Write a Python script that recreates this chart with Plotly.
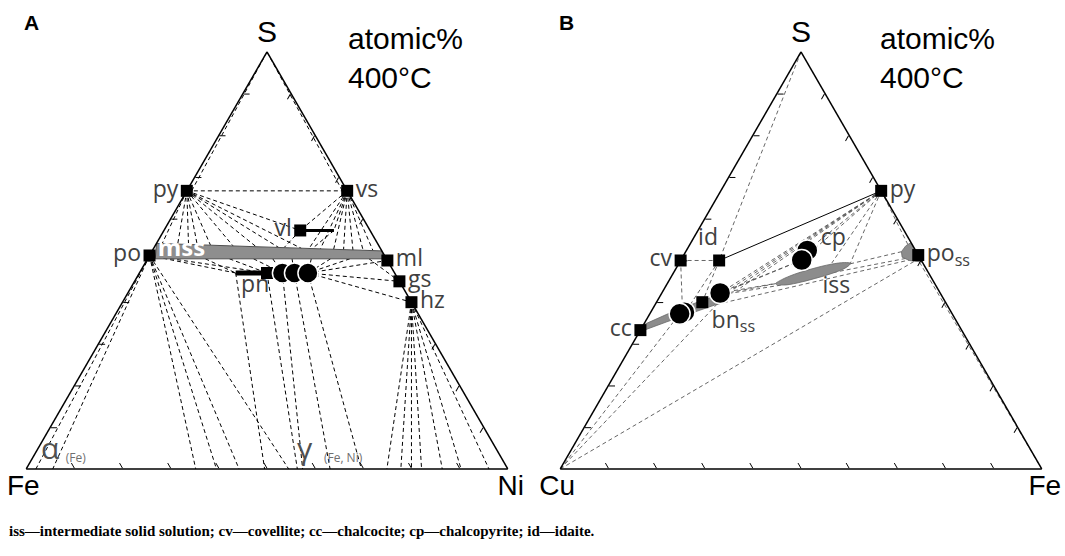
import plotly.graph_objects as go

# ================= Panel A : Fe–Ni–S (atomic %, 400 °C) =================
A_phase_names = ["py", "vs", "vl", "po", "ml", "gs", "hz"]
A_phase_S = [66.7, 66.7, 57.2, 51.2, 50.0, 45.0, 40.0]
A_phase_Ni = [0.0, 33.3, 28.3, 0.0, 50.0, 55.0, 60.0]

A_pn_square_S = [47.0]
A_pn_square_Ni = [26.5]

A_pn_circle_S = [47.0, 47.0, 47.0]
A_pn_circle_Ni = [29.7, 32.2, 35.0]

A_vl_ss_S = [57.2, 57.2]
A_vl_ss_Ni = [28.3, 35.3]
A_pn_ss_S = [47.0, 47.0]
A_pn_ss_Ni = [20.0, 26.5]

A_mss_S = [54.1, 52.3, 50.4, 50.4, 54.1]
A_mss_Ni = [0.0, 47.7, 49.0, 1.6, 0.0]

# tie lines: (S1, Ni1) -> (S2, Ni2)
A_tie_S1 = [100, 100, 66.7, 66.7, 66.7, 66.7, 66.7, 66.7, 66.7, 66.7, 66.7, 66.7, 66.7,
            66.7, 66.7, 66.7, 66.7, 66.7, 66.7, 66.7, 66.7, 66.7, 57.2, 57.2,
            51.2, 51.2, 50.4, 50.4, 50.4, 50.4, 50.4, 50.4, 50.4, 50.4, 47.0, 47.0, 47.0, 50.4,
            51.2, 51.2, 51.2, 51.2, 51.2, 51.2,
            47.0, 47.0, 47.0, 47.0, 47.0,
            40.0, 40.0, 40.0, 40.0, 40.0, 40.0, 40.0]
A_tie_Ni1 = [0, 0, 0, 0, 0, 0, 0, 0, 0, 0, 0, 0, 0,
             33.3, 33.3, 33.3, 33.3, 33.3, 33.3, 33.3, 33.3, 33.3, 28.3, 35.3,
             0, 0, 12.0, 17.0, 22.0, 26.0, 30.0, 34.0, 38.0, 42.0, 35.0, 35.0, 35.0, 46.0,
             0, 0, 0, 0, 0, 0,
             20.0, 26.5, 29.7, 32.2, 35.0,
             60.0, 60.0, 60.0, 60.0, 60.0, 60.0, 60.0]
A_tie_S2 = [66.7, 66.7, 66.7, 54.1, 53.9, 53.8, 53.8, 53.7, 53.5, 53.3, 53.1, 52.9, 57.2,
            57.2, 57.2, 52.9, 52.8, 52.7, 52.6, 52.5, 52.5, 52.4, 53.1, 52.9,
            47.0, 47.0, 47.0, 47.0, 47.0, 47.0, 47.0, 47.0, 47.0, 47.0, 50.0, 45.0, 40.0, 45.0,
            0, 0, 0, 0, 0, 0,
            0, 0, 0, 0, 0,
            0, 0, 0, 0, 0, 0, 0]
A_tie_Ni2 = [1.0, 32.3, 33.3, 1.2, 4.5, 6.8, 8.6, 11.4, 16.2, 21.1, 25.9, 30.7, 28.3,
             28.3, 35.3, 32.3, 34.7, 37.5, 39.6, 41.6, 43.7, 45.8, 27.0, 33.0,
             20.0, 26.5, 20.0, 26.5, 29.7, 29.7, 32.2, 35.0, 35.0, 35.0, 50.0, 55.0, 60.0, 55.0,
             2.0, 5.5, 35.2, 39.5, 44.2, 54.5,
             49.5, 56.3, 57.4, 63.1, 69.6,
             74.9, 77.8, 80.0, 82.1, 86.4, 90.3, 96.1]

A_mss_text = ["mss"]
A_mss_text_S = [52.5]
A_mss_text_Ni = [6.0]
A_label_text = ["pn"]
A_label_S = [43.9]
A_label_Ni = [25.6]
A_greek_text = ["α", "γ"]
A_greek_S = [4.3, 4.1]
A_greek_Ni = [2.8, 55.8]
A_sub_text = ["(Fe)", "(Fe, Ni)"]
A_sub_S = [2.4, 2.4]
A_sub_Ni = [9.1, 64.6]

# ================= Panel B : Cu–Fe–S (atomic %, 400 °C) =================
B_phase_names = ["py", "po<sub>ss</sub>", "cv", "cc"]
B_phase_S = [66.7, 51.3, 50.0, 33.3]
B_phase_Fe = [33.3, 48.7, 0.0, 0.0]

B_other_square_S = [50.0, 40.0]     # id, bn
B_other_square_Fe = [8.0, 9.5]

B_circle_S = [37.6, 37.2, 42.2, 52.4, 50.1]
B_circle_Fe = [7.0, 6.2, 12.1, 25.1, 25.1]

B_iss_S = [49.3, 48.4, 47.0, 45.7, 44.6, 44.1, 44.4, 45.4, 46.7, 48.0, 49.1, 49.5, 49.3]
B_iss_Fe = [35.6, 35.3, 33.2, 30.1, 26.9, 24.3, 22.5, 23.3, 25.3, 28.3, 31.7, 34.3, 35.6]

B_bn_S = [33.3, 34.8, 37.1, 40.0, 41.5, 41.2, 39.5, 37.5, 35.3, 33.3, 33.3]
B_bn_Fe = [0.0, 0.3, 3.6, 8.5, 11.5, 13.8, 12.8, 8.8, 4.5, 0.8, 0.0]

B_po_S = [54.3, 53.5, 52.1, 50.8, 50.0, 49.6, 54.3]
B_po_Fe = [45.7, 45.0, 44.8, 45.6, 47.5, 50.4, 45.7]

B_tie_S1 = [100, 50, 50, 50, 50, 66.7, 66.7, 66.7, 66.7, 66.7, 66.7, 66.7, 66.7, 66.7,
            50.1, 50.1, 42.2, 41.8, 49.2, 42.0, 39.5, 0, 0, 0, 49.6]
B_tie_Fe1 = [0, 0, 0, 8, 8, 33.3, 33.3, 33.3, 33.3, 33.3, 33.3, 33.3, 33.3, 33.3,
             25.1, 25.1, 12.1, 12.6, 35.6, 12.8, 12.8, 0, 0, 0, 49.8]
B_tie_S2 = [50, 50, 37.6, 37.9, 40.0, 42.2, 42.7, 43.1, 43.4, 52.4, 50.1, 49.4, 49.2, 53.8,
            42.2, 42.7, 44.5, 44.2, 52.1, 51.0, 50.6, 50.5, 37.2, 39.5, 0]
B_tie_Fe2 = [8, 8, 6.6, 7.2, 9.5, 12.1, 13.3, 14.5, 15.7, 25.1, 25.1, 31.7, 35.6, 45.3,
             12.1, 13.3, 22.5, 24.3, 44.8, 48.5, 49.0, 49.3, 6.2, 12.8, 100]

B_solid_S = [50.0, 66.7]
B_solid_Fe = [8.0, 33.3]

B_label_text = ["iss", "bn<sub>ss</sub>", "id", "cp"]
B_label_S = [43.7, 35.3, 55.2, 55.2]
B_label_Fe = [35.5, 18.3, 3.1, 29.1]

CAPTION = "iss—intermediate solid solution; cv—covellite; cc—chalcocite; cp—chalcopyrite; id—idaite."

LABEL_FONT = dict(family="Open Sans", size=23, color="#404040")


def segments(s1, x1, s2, x2):
    a, b, c = [], [], []
    for p, q, r, t in zip(s1, x1, s2, x2):
        a += [p, r, None]
        c += [q, t, None]
        b += [100 - p - q, 100 - r - t, None]
    return a, b, c


def rest(s, x):
    return [100 - p - q for p, q in zip(s, x)]


def tr(s, x, sub, **kw):
    return go.Scatterternary(a=s, b=rest(s, x), c=x, subplot=sub, cliponaxis=False,
                             hoverinfo="skip", **kw)


fig = go.Figure()

# ---------- Panel A ----------
a, b, c = segments(A_tie_S1, A_tie_Ni1, A_tie_S2, A_tie_Ni2)
fig.add_trace(go.Scatterternary(a=a, b=b, c=c, mode="lines", subplot="ternary",
                                line=dict(color="black", width=1, dash="4px,3px"),
                                cliponaxis=False, hoverinfo="skip"))
fig.add_trace(tr(A_mss_S, A_mss_Ni, "ternary", mode="lines", fill="toself",
                 fillcolor="#8e8e8e", line=dict(color="#505050", width=1)))
fig.add_trace(tr(A_vl_ss_S, A_vl_ss_Ni, "ternary", mode="lines",
                 line=dict(color="black", width=3)))
fig.add_trace(tr(A_pn_ss_S, A_pn_ss_Ni, "ternary", mode="lines",
                 line=dict(color="black", width=5)))
fig.add_trace(tr(A_pn_square_S, A_pn_square_Ni, "ternary", mode="markers",
                 marker=dict(symbol="square", size=12, color="black")))
fig.add_trace(tr(A_pn_circle_S, A_pn_circle_Ni, "ternary", mode="markers",
                 marker=dict(symbol="circle", size=20, color="black",
                             line=dict(color="white", width=1.5))))
fig.add_trace(tr(A_phase_S, A_phase_Ni, "ternary", mode="markers+text", text=A_phase_names,
                 textposition=["middle left", "middle right", "middle left", "middle left",
                               "middle right", "middle right", "middle right"],
                 textfont=LABEL_FONT,
                 marker=dict(symbol="square", size=12, color="black")))
fig.add_trace(tr(A_label_S, A_label_Ni, "ternary", mode="text", text=A_label_text,
                 textposition="middle center", textfont=LABEL_FONT))
fig.add_trace(tr(A_mss_text_S, A_mss_text_Ni, "ternary", mode="text",
                 text=["<b>%s</b>" % t for t in A_mss_text], textposition="middle center",
                 textfont=dict(family="Open Sans", size=24, color="white")))
fig.add_trace(tr(A_greek_S, A_greek_Ni, "ternary", mode="text", text=A_greek_text,
                 textposition="middle center",
                 textfont=dict(family="Open Sans", size=30, color="#505050")))
fig.add_trace(tr(A_sub_S, A_sub_Ni, "ternary", mode="text", text=A_sub_text,
                 textposition="middle center",
                 textfont=dict(family="Open Sans", size=12, color="#707070")))

# ---------- Panel B ----------
a, b, c = segments(B_tie_S1, B_tie_Fe1, B_tie_S2, B_tie_Fe2)
fig.add_trace(go.Scatterternary(a=a, b=b, c=c, mode="lines", subplot="ternary2",
                                line=dict(color="#555555", width=0.9, dash="4px,3px"),
                                cliponaxis=False, hoverinfo="skip"))
for s_arr, f_arr, shape in [(B_bn_S, B_bn_Fe, "linear"), (B_po_S, B_po_Fe, "linear"),
                            (B_iss_S, B_iss_Fe, "spline")]:
    fig.add_trace(tr(s_arr, f_arr, "ternary2", mode="lines", fill="toself",
                     fillcolor="#8c8c8c", line=dict(color="#6a6a6a", width=0.8, shape=shape)))
fig.add_trace(tr(B_solid_S, B_solid_Fe, "ternary2", mode="lines",
                 line=dict(color="black", width=1)))
fig.add_trace(tr(B_other_square_S, B_other_square_Fe, "ternary2", mode="markers",
                 marker=dict(symbol="square", size=12, color="black")))
fig.add_trace(tr(B_phase_S, B_phase_Fe, "ternary2", mode="markers+text", text=B_phase_names,
                 textposition=["middle right", "middle right", "middle left", "middle left"],
                 textfont=LABEL_FONT,
                 marker=dict(symbol="square", size=12, color="black")))
fig.add_trace(tr(B_circle_S, B_circle_Fe, "ternary2", mode="markers",
                 marker=dict(symbol="circle", size=21, color="black",
                             line=dict(color="white", width=1.5))))
fig.add_trace(tr(B_label_S, B_label_Fe, "ternary2", mode="text", text=B_label_text,
                 textposition="middle center", textfont=LABEL_FONT))

# ---------- layout ----------
axis_common = dict(showgrid=False, showticklabels=False, ticks="inside", ticklen=6,
                   tickwidth=1, tickcolor="black", tickmode="array",
                   tickvals=[10, 20, 30, 40, 50, 60, 70, 80, 90],
                   linecolor="black", linewidth=1.5, min=0)
title_font_top = dict(family="Liberation Sans", size=30, color="black")
title_font = dict(family="Liberation Sans", size=28, color="black")


def tern(xdom, ta, tb, tc):
    return dict(domain=dict(x=xdom, y=[0.1565, 0.9065]), sum=100, bgcolor="white",
                aaxis=dict(title=dict(text=ta, font=title_font_top), **axis_common),
                baxis=dict(title=dict(text=tb, font=title_font), **axis_common),
                caxis=dict(title=dict(text=tc, font=title_font), **axis_common))


W, H = 1065, 556
fig.update_layout(
    width=W, height=H, margin=dict(l=0, r=0, t=0, b=0),
    paper_bgcolor="white", plot_bgcolor="white", showlegend=False,
    ternary=tern([26 / W, 508 / W], "S", "Fe", "Ni"),
    ternary2=tern([560 / W, 1042 / W], "S", "Cu", "Fe"),
    annotations=[
        dict(x=31 / W, y=1 - 23 / H, xref="paper", yref="paper", text="<b>A</b>",
             showarrow=False, xanchor="center", yanchor="middle",
             font=dict(family="Liberation Sans", size=21, color="black")),
        dict(x=566 / W, y=1 - 23 / H, xref="paper", yref="paper", text="<b>B</b>",
             showarrow=False, xanchor="center", yanchor="middle",
             font=dict(family="Liberation Sans", size=21, color="black")),
        dict(x=346 / W, y=1 - 20 / H, xref="paper", yref="paper", text="atomic%<br>400°C",
             showarrow=False, xanchor="left", yanchor="top", align="left",
             font=dict(family="Liberation Sans", size=30, color="black")),
        dict(x=878 / W, y=1 - 20 / H, xref="paper", yref="paper", text="atomic%<br>400°C",
             showarrow=False, xanchor="left", yanchor="top", align="left",
             font=dict(family="Liberation Sans", size=30, color="black")),
        dict(x=7 / W, y=1 - 531 / H, xref="paper", yref="paper", text="<b>" + CAPTION + "</b>",
             showarrow=False, xanchor="left", yanchor="middle",
             font=dict(family="Liberation Serif", size=15, color="black")),
    ],
)

fig.write_html("out.html")
